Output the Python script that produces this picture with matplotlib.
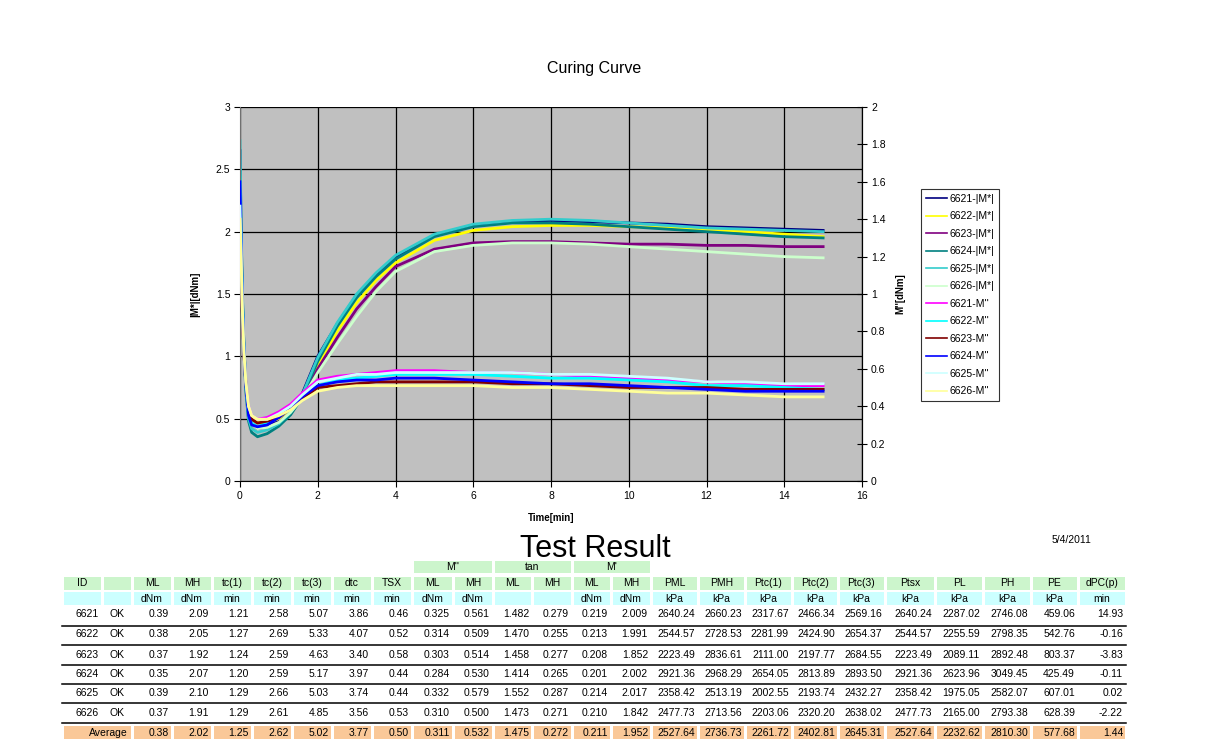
import matplotlib
matplotlib.use("Agg")
import matplotlib.pyplot as plt
from matplotlib.patches import Rectangle
from matplotlib.ticker import FuncFormatter, MultipleLocator

plt.rcParams['font.family'] = ['Liberation Sans', 'DejaVu Sans']

# ---- curve data ----
time_min = [0, 0.03, 0.06, 0.1, 0.15, 0.22, 0.3, 0.45, 0.7, 1.0, 1.3, 1.6, 2.0, 2.5,
            3.0, 3.5, 4.0, 5.0, 6.0, 7.0, 8.0, 9.0, 10.0, 11.0, 12.0, 13.0, 14.0, 15.0]

# |M*| [dNm], left axis
mstar_6621 = [2.65, 2.00, 1.50, 1.10, 0.78, 0.55, 0.46, 0.43, 0.44, 0.48, 0.56, 0.70, 1.00, 1.26,
              1.49, 1.66, 1.80, 1.97, 2.05, 2.08, 2.09, 2.08, 2.07, 2.06, 2.04, 2.03, 2.02, 2.01]
mstar_6622 = [2.40, 1.90, 1.45, 1.08, 0.80, 0.58, 0.50, 0.47, 0.47, 0.50, 0.57, 0.68, 0.93, 1.20,
              1.43, 1.61, 1.75, 1.93, 2.01, 2.04, 2.05, 2.05, 2.04, 2.03, 2.01, 2.00, 1.98, 1.96]
mstar_6623 = [2.30, 1.85, 1.40, 1.05, 0.78, 0.55, 0.46, 0.42, 0.43, 0.47, 0.55, 0.67, 0.90, 1.15,
              1.38, 1.56, 1.72, 1.86, 1.91, 1.92, 1.92, 1.91, 1.90, 1.90, 1.89, 1.89, 1.88, 1.88]
mstar_6624 = [2.50, 1.90, 1.45, 1.05, 0.72, 0.48, 0.39, 0.355, 0.38, 0.44, 0.53, 0.67, 0.96, 1.24,
              1.47, 1.64, 1.78, 1.96, 2.04, 2.07, 2.07, 2.06, 2.04, 2.02, 2.00, 1.98, 1.96, 1.95]
mstar_6625 = [2.73, 2.05, 1.55, 1.10, 0.75, 0.50, 0.42, 0.39, 0.41, 0.46, 0.55, 0.69, 0.99, 1.27,
              1.50, 1.67, 1.81, 1.98, 2.06, 2.09, 2.10, 2.09, 2.07, 2.05, 2.03, 2.02, 2.01, 2.00]
mstar_6626 = [2.20, 1.80, 1.40, 1.05, 0.78, 0.55, 0.46, 0.42, 0.43, 0.47, 0.55, 0.66, 0.87, 1.10,
              1.32, 1.52, 1.68, 1.84, 1.89, 1.91, 1.91, 1.90, 1.88, 1.86, 1.84, 1.82, 1.80, 1.79]

# M'' [dNm], right axis
m2_6621 = [1.40, 1.17, 0.93, 0.70, 0.53, 0.40, 0.35, 0.33, 0.34, 0.37, 0.41, 0.47, 0.54, 0.56,
           0.57, 0.58, 0.59, 0.59, 0.58, 0.58, 0.57, 0.56, 0.55, 0.54, 0.53, 0.52, 0.51, 0.51]
m2_6622 = [1.53, 1.23, 0.97, 0.72, 0.52, 0.37, 0.31, 0.29, 0.31, 0.35, 0.39, 0.45, 0.51, 0.54,
           0.55, 0.56, 0.57, 0.57, 0.57, 0.56, 0.55, 0.55, 0.54, 0.53, 0.51, 0.51, 0.50, 0.49]
m2_6623 = [1.33, 1.13, 0.90, 0.68, 0.52, 0.39, 0.33, 0.31, 0.32, 0.34, 0.39, 0.44, 0.50, 0.51,
           0.52, 0.53, 0.53, 0.53, 0.53, 0.52, 0.52, 0.51, 0.50, 0.50, 0.50, 0.49, 0.49, 0.49]
m2_6624 = [1.60, 1.27, 0.97, 0.71, 0.51, 0.35, 0.30, 0.29, 0.30, 0.34, 0.39, 0.45, 0.51, 0.53,
           0.54, 0.54, 0.55, 0.55, 0.54, 0.53, 0.52, 0.52, 0.51, 0.50, 0.49, 0.48, 0.48, 0.48]
m2_6625 = [1.47, 1.20, 0.93, 0.70, 0.53, 0.40, 0.35, 0.33, 0.33, 0.36, 0.40, 0.46, 0.53, 0.55,
           0.57, 0.57, 0.58, 0.58, 0.58, 0.58, 0.57, 0.57, 0.56, 0.55, 0.53, 0.53, 0.52, 0.52]
m2_6626 = [1.40, 1.17, 0.92, 0.69, 0.53, 0.40, 0.35, 0.33, 0.33, 0.35, 0.38, 0.43, 0.48, 0.50,
           0.51, 0.51, 0.51, 0.51, 0.51, 0.50, 0.50, 0.49, 0.48, 0.47, 0.47, 0.46, 0.45, 0.45]

samples = ['6621', '6622', '6623', '6624', '6625', '6626']
mstar_series = [mstar_6621, mstar_6622, mstar_6623, mstar_6624, mstar_6625, mstar_6626]
m2_series = [m2_6621, m2_6622, m2_6623, m2_6624, m2_6625, m2_6626]
mstar_colors = ['#000080', '#FFFF00', '#800080', '#008080', '#33CCCC', '#CCFFCC']
m2_colors = ['#FF00FF', '#00FFFF', '#800000', '#0000FF', '#CCFFFF', '#FFFF99']

# ---- table data ----
group_headers = [(9, 10, "M''"), (11, 12, 'tan'), (13, 14, "M'")]
headers = ['ID', '', 'ML', 'MH', 'tc(1)', 'tc(2)', 'tc(3)', 'dtc', 'TSX', 'ML', 'MH', 'ML', 'MH',
           'ML', 'MH', 'PML', 'PMH', 'Ptc(1)', 'Ptc(2)', 'Ptc(3)', 'Ptsx', 'PL', 'PH', 'PE', 'dPC(p)']
units = ['', '', 'dNm', 'dNm', 'min', 'min', 'min', 'min', 'min', 'dNm', 'dNm', '', '',
         'dNm', 'dNm', 'kPa', 'kPa', 'kPa', 'kPa', 'kPa', 'kPa', 'kPa', 'kPa', 'kPa', 'min']
rows = [
    ['6621', 'OK', '0.39', '2.09', '1.21', '2.58', '5.07', '3.86', '0.46', '0.325', '0.561', '1.482', '0.279',
     '0.219', '2.009', '2640.24', '2660.23', '2317.67', '2466.34', '2569.16', '2640.24', '2287.02', '2746.08', '459.06', '14.93'],
    ['6622', 'OK', '0.38', '2.05', '1.27', '2.69', '5.33', '4.07', '0.52', '0.314', '0.509', '1.470', '0.255',
     '0.213', '1.991', '2544.57', '2728.53', '2281.99', '2424.90', '2654.37', '2544.57', '2255.59', '2798.35', '542.76', '-0.16'],
    ['6623', 'OK', '0.37', '1.92', '1.24', '2.59', '4.63', '3.40', '0.58', '0.303', '0.514', '1.458', '0.277',
     '0.208', '1.852', '2223.49', '2836.61', '2111.00', '2197.77', '2684.55', '2223.49', '2089.11', '2892.48', '803.37', '-3.83'],
    ['6624', 'OK', '0.35', '2.07', '1.20', '2.59', '5.17', '3.97', '0.44', '0.284', '0.530', '1.414', '0.265',
     '0.201', '2.002', '2921.36', '2968.29', '2654.05', '2813.89', '2893.50', '2921.36', '2623.96', '3049.45', '425.49', '-0.11'],
    ['6625', 'OK', '0.39', '2.10', '1.29', '2.66', '5.03', '3.74', '0.44', '0.332', '0.579', '1.552', '0.287',
     '0.214', '2.017', '2358.42', '2513.19', '2002.55', '2193.74', '2432.27', '2358.42', '1975.05', '2582.07', '607.01', '0.02'],
    ['6626', 'OK', '0.37', '1.91', '1.29', '2.61', '4.85', '3.56', '0.53', '0.310', '0.500', '1.473', '0.271',
     '0.210', '1.842', '2477.73', '2713.56', '2203.06', '2320.20', '2638.02', '2477.73', '2165.00', '2793.38', '628.39', '-2.22'],
]
average = ['0.38', '2.02', '1.25', '2.62', '5.02', '3.77', '0.50', '0.311', '0.532', '1.475', '0.272',
           '0.211', '1.952', '2527.64', '2736.73', '2261.72', '2402.81', '2645.31', '2527.64', '2232.62', '2810.30', '577.68', '1.44']

# ---- figure ----
W, H = 1208, 748
fig = plt.figure(figsize=(W / 100, H / 100), dpi=100)

ax = fig.add_axes([240 / W, 1 - 481 / H, 622 / W, 374 / H])
ax.set_facecolor('#C0C0C0')
ax2 = ax.twinx()

handles = []
for s, y, c in zip(samples, mstar_series, mstar_colors):
    h, = ax.plot(time_min, y, color=c, lw=2.0, label=s + '-|M*|')
    handles.append(h)
for s, y, c in zip(samples, m2_series, m2_colors):
    h, = ax2.plot(time_min, y, color=c, lw=2.0, label=s + "-M''")
    handles.append(h)

fmt = FuncFormatter(lambda v, p: '{:g}'.format(round(v, 2)))
ax.set_xlim(0, 16)
ax.set_ylim(0, 3)
ax2.set_ylim(0, 2)
ax.xaxis.set_major_locator(MultipleLocator(2))
ax.yaxis.set_major_locator(MultipleLocator(0.5))
ax2.yaxis.set_major_locator(MultipleLocator(0.2))
ax.xaxis.set_major_formatter(fmt)
ax.yaxis.set_major_formatter(fmt)
ax2.yaxis.set_major_formatter(fmt)

ax.set_axisbelow(True)
ax.grid(True, color='black', lw=0.9)
for g in (ax.xaxis.get_gridlines()[0], ax.xaxis.get_gridlines()[-1],
          ax.yaxis.get_gridlines()[0], ax.yaxis.get_gridlines()[-1]):
    g.set_visible(False)

for a in (ax, ax2):
    a.spines['top'].set_visible(False)
ax.spines['left'].set_color('#707070')
ax.spines['bottom'].set_color('black')
ax2.spines['right'].set_color('black')
ax2.spines['left'].set_visible(False)
ax2.spines['bottom'].set_visible(False)

ax.tick_params(axis='both', labelsize=7.5, length=4, width=0.8, pad=3)
ax2.tick_params(axis='y', labelsize=7.5, length=7, width=0.8, direction='inout', pad=3)

ax.set_xlabel('Time[min]', fontsize=7, fontweight='bold')
ax.set_ylabel('|M*|[dNm]', fontsize=7, fontweight='bold')
ax2.set_ylabel("M''[dNm]", fontsize=7, fontweight='bold', rotation=90)
ax.xaxis.set_label_coords(0.5, -(513 - 481) / 374)
ax.yaxis.set_label_coords(-40 / 622, 0.5)
ax2.yaxis.set_label_coords(1 + 33 / 622, 0.5)

fig.text(594 / W, 1 - 68 / H, 'Curing Curve', fontsize=11.5, ha='center', va='center')

leg = fig.legend(handles=handles, loc='upper left', bbox_to_anchor=(921 / W, 1 - 189 / H),
                 fontsize=7.5, frameon=True, fancybox=False, edgecolor='black',
                 handlelength=2.0, handletextpad=0.3, labelspacing=0.72,
                 borderpad=0.45, borderaxespad=0)
leg.get_frame().set_linewidth(0.8)
for ln in leg.get_lines():
    ln.set_linewidth(1.2)

# ---- result table drawn in pixel coordinates ----
tab = fig.add_axes([0, 0, 1, 1])
tab.set_xlim(0, W)
tab.set_ylim(H, 0)
tab.axis('off')

tab.text(595, 549, 'Test Result', fontsize=22, ha='center', va='center')
tab.text(1072, 540, '5/4/2011', fontsize=7.5, ha='center', va='center')

col_widths = [40, 30, 40, 40, 40, 40, 40, 40, 40, 41, 40, 39, 40, 39, 40,
              47, 47, 47, 46, 47, 50, 48, 48, 47, 48]
edges = [62]
for w in col_widths:
    edges.append(edges[-1] + w)

green = '#CCF5CC'
cyan = '#CCFFFF'
orange = '#FAC898'
fs = 7.5

def cell(x0, x1, y0, y1, color):
    tab.add_patch(Rectangle((x0 + 1.5, y0), x1 - x0 - 3, y1 - y0, facecolor=color, edgecolor='none'))

# group header row
for c0, c1, name in group_headers:
    cell(edges[c0], edges[c1 + 1], 561, 573, green)
    tab.text((edges[c0] + edges[c1 + 1]) / 2, 567, name, fontsize=fs, ha='center', va='center')

# header and units rows
for i in range(len(headers)):
    x0, x1 = edges[i], edges[i + 1]
    cell(x0, x1, 577, 590, green)
    cell(x0, x1, 592, 605, cyan)
    tab.text((x0 + x1) / 2, 583.5, headers[i], fontsize=fs, ha='center', va='center')
    tab.text((x0 + x1) / 2, 598.5, units[i], fontsize=fs, ha='center', va='center')

row_y = [614, 634, 655, 674, 693, 713]
sep_y = [625.5, 645, 664.5, 684, 702.5, 722.5]
for r, yc in zip(rows, row_y):
    for i, v in enumerate(r):
        x0, x1 = edges[i], edges[i + 1]
        if i == 1:
            tab.text((x0 + x1) / 2, yc, v, fontsize=fs, ha='center', va='center')
        else:
            tab.text(x1 - 3, yc, v, fontsize=fs, ha='right', va='center')
for ys in sep_y:
    tab.plot([edges[0], edges[-1]], [ys, ys], color='black', lw=1.1)

# average row
cell(edges[0], edges[2], 726, 739, orange)
tab.text(edges[2] - 4, 732.5, 'Average', fontsize=fs, ha='right', va='center')
for i, v in enumerate(average):
    x0, x1 = edges[i + 2], edges[i + 3]
    cell(x0, x1, 726, 739, orange)
    tab.text(x1 - 3, 732.5, v, fontsize=fs, ha='right', va='center')

fig.savefig('out.png', dpi=100)
